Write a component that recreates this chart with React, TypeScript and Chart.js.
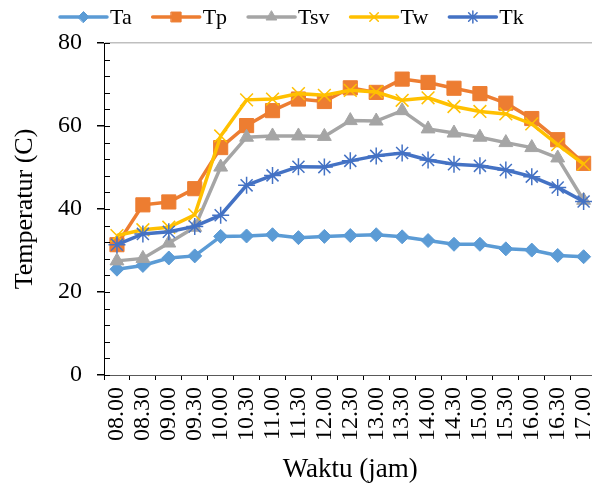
import React, { useEffect, useRef } from 'react';
import { Chart, registerables } from 'chart.js';
import { drawPoint } from 'chart.js/helpers';

Chart.register(...registerables);

const categories = ['08.00', '08.30', '09.00', '09.30', '10.00', '10.30', '11.00', '11.30', '12.00', '12.30', '13.00', '13.30', '14.00', '14.30', '15.00', '15.30', '16.00', '16.30', '17.00'];
const ta = [25.5, 26.4, 28.2, 28.7, 33.4, 33.5, 33.8, 33.1, 33.4, 33.6, 33.8, 33.3, 32.4, 31.5, 31.5, 30.4, 30.1, 28.8, 28.5];
const tp = [31.4, 41.0, 41.7, 44.9, 54.8, 60.1, 63.7, 66.5, 65.9, 69.2, 68.1, 71.3, 70.5, 69.1, 67.8, 65.5, 61.8, 56.7, 51.0];
const tsv = [27.5, 28.1, 31.8, 35.6, 50.1, 57.3, 57.6, 57.6, 57.5, 61.3, 61.2, 63.7, 59.3, 58.3, 57.3, 56.0, 54.8, 52.3, 42.1];
const tw = [33.6, 35.0, 35.6, 38.6, 57.6, 66.3, 66.5, 67.8, 67.4, 68.6, 68.2, 66.2, 66.8, 64.7, 63.5, 62.9, 60.5, 55.5, 50.8];
const tk = [31.4, 34.0, 34.5, 35.8, 38.5, 45.7, 48.1, 50.2, 50.1, 51.6, 52.8, 53.5, 51.8, 50.8, 50.4, 49.4, 47.8, 45.2, 41.8];

const yTicksMajor = [0, 20, 40, 60, 80];
const FONT = "'Liberation Serif', 'Times New Roman', serif";

const seriesDefs = [
  { label: 'Ta', data: ta, color: '#5B9BD5', style: 'rectRot', radius: 7, legendRadius: 5.5, bw: 1 },
  { label: 'Tp', data: tp, color: '#ED7D31', style: 'rect', radius: 10, legendRadius: 7, bw: 1 },
  { label: 'Tsv', data: tsv, color: '#A5A5A5', style: 'triangle', radius: 8, legendRadius: 6, bw: 1 },
  { label: 'Tw', data: tw, color: '#FFC000', style: 'crossRot', radius: 9, legendRadius: 6, bw: 1.5 },
  { label: 'Tk', data: tk, color: '#4472C4', style: 'star', radius: 8.5, legendRadius: 6, bw: 1.5 },
];

const legendPlugin = {
  id: 'customLegend',
  afterDraw(chart: any) {
    const ctx = chart.ctx;
    ctx.save();
    ctx.font = `22px ${FONT}`;
    ctx.textBaseline = 'middle';
    ctx.textAlign = 'left';
    let x = 60;
    const y = 17;
    const lineLen = 47;
    seriesDefs.forEach((s) => {
      ctx.strokeStyle = s.color;
      ctx.lineWidth = 3.5;
      ctx.lineCap = 'round';
      ctx.beginPath();
      ctx.moveTo(x, y);
      ctx.lineTo(x + lineLen, y);
      ctx.stroke();
      ctx.fillStyle = s.color;
      ctx.strokeStyle = s.color;
      ctx.lineWidth = s.bw;
      drawPoint(ctx, { pointStyle: s.style, radius: s.legendRadius, rotation: 0, borderWidth: s.bw } as any, x + lineLen / 2, y);
      ctx.fillStyle = '#000';
      ctx.fillText(s.label, x + lineLen + 3, y + 1);
      x += lineLen + 3 + ctx.measureText(s.label).width + 21;
    });
    ctx.restore();
  },
};

const minorTickPlugin = {
  id: 'minorTicks',
  afterDraw(chart: any) {
    const ctx = chart.ctx;
    const ys = chart.scales.y;
    const left = chart.chartArea.left;
    ctx.save();
    ctx.strokeStyle = '#000';
    ctx.lineWidth = 1;
    for (let v = 0; v <= 80; v += 4) {
      const py = Math.round(ys.getPixelForValue(v)) + 0.5;
      ctx.beginPath();
      ctx.moveTo(left, py);
      ctx.lineTo(left + 6, py);
      ctx.stroke();
    }
    ctx.restore();
  },
};

export default function App() {
  const ref = useRef<HTMLCanvasElement>(null);
  useEffect(() => {
    document.documentElement.style.overflow = 'hidden';
    document.body.style.overflow = 'hidden';
    const chart = new Chart(ref.current as HTMLCanvasElement, {
      type: 'line',
      data: {
        labels: categories,
        datasets: seriesDefs.map((s, i) => ({
          label: s.label,
          data: s.data,
          borderColor: s.color,
          backgroundColor: s.color,
          borderWidth: 3.5,
          pointStyle: s.style as any,
          pointRadius: s.radius,
          pointBorderWidth: s.bw,
          pointBackgroundColor: s.color,
          pointBorderColor: s.color,
          tension: 0,
          order: 5 - i,
          clip: false as any,
        })),
      },
      options: {
        responsive: false,
        animation: false,
        devicePixelRatio: 1,
        layout: { padding: { top: 43, left: 0, right: 22, bottom: 0 } },
        plugins: {
          legend: { display: false },
          tooltip: { enabled: false },
        },
        scales: {
          x: {
            type: 'category',
            offset: true,
            grid: {
              offset: true,
              drawOnChartArea: false,
              tickColor: '#000',
              tickLength: 5,
            },
            border: { display: true, color: '#595959', width: 1 },
            ticks: {
              autoSkip: false,
              minRotation: 90,
              maxRotation: 90,
              padding: 7,
              color: '#000',
              font: { family: FONT, size: 24 },
            },
            title: {
              display: true,
              text: 'Waktu (jam)',
              color: '#000',
              font: { family: FONT, size: 27 },
              padding: { top: 0, bottom: 2 },
            },
            afterFit(scale: any) {
              scale.height = 113;
            },
          },
          y: {
            min: 0,
            max: 80,
            afterBuildTicks(scale: any) {
              scale.ticks = yTicksMajor.map((v) => ({ value: v }));
            },
            grid: {
              color: (c: any) => (c.tick && c.tick.value === 80 ? '#BFBFBF' : 'rgba(0,0,0,0)'),
              tickColor: '#000',
              tickLength: 7,
              lineWidth: 1.5,
            },
            border: { display: true, color: '#000', width: 1 },
            ticks: {
              padding: 15,
              color: '#000',
              font: { family: FONT, size: 24 },
            },
            title: {
              display: true,
              text: 'Temperatur (C)',
              color: '#000',
              font: { family: FONT, size: 26 },
              padding: { top: 10, bottom: 0 },
            },
            afterFit(scale: any) {
              scale.width = 104;
            },
          },
        },
      },
      plugins: [legendPlugin, minorTickPlugin],
    });
    return () => chart.destroy();
  }, []);
  return (
    <div style={{ position: 'absolute', left: 0, top: 0, width: 592, height: 488, overflow: 'hidden' }}>
      <canvas ref={ref} width={620} height={488} style={{ width: 620, height: 488, display: 'block' }} />
    </div>
  );
}
